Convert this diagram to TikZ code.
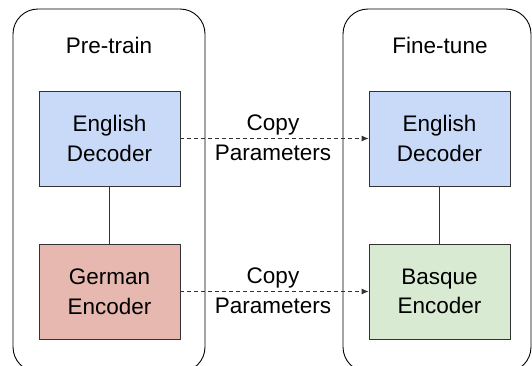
\documentclass[tikz,border=0pt]{standalone}
\usepackage{fontspec}
\setmainfont{Liberation Sans}
\usetikzlibrary{arrows.meta}
\definecolor{edblue}{HTML}{C9DAF8}
\definecolor{edred}{HTML}{E6B8AF}
\definecolor{edgreen}{HTML}{D9EAD3}
\definecolor{lin}{HTML}{333333}
\tikzset{
  container/.style={draw=black, line width=0.9pt, rounded corners=25pt},
  block/.style={draw=lin, line width=0.8pt, minimum width=141pt, minimum height=95pt, inner sep=0pt, align=center, font=\fontsize{22.5}{29.5}\selectfont},
  title/.style={font=\fontsize{22.5}{29.5}\selectfont, inner sep=0pt},
  lbl/.style={font=\fontsize{22.5}{29.5}\selectfont, inner sep=0pt, anchor=base},
  copyarrow/.style={draw=lin, line width=0.8pt, dash pattern=on 4pt off 3pt, -{Latex[length=7pt,width=6pt]}},
  link/.style={draw=lin, line width=0.8pt}
}
\begin{document}
\begin{tikzpicture}[x=1pt,y=-1pt]
\clip (0,0) rectangle (532,365);
\fill[white] (0,0) rectangle (532,365);
\draw[container] (13,9) rectangle (205,372);
\draw[container] (343,9) rectangle (531,372);
\node[title] (pt) at (109,45) {Pre-train};
\node[title] (ft) at (440,45) {Fine-tune};
\node[block, fill=edblue] (ed1) at (109.5,138.5) {English\\Decoder};
\node[block, fill=edred] (ge) at (109.5,291.5) {German\\Encoder};
\node[block, fill=edblue] (ed2) at (439.5,138.5) {English\\Decoder};
\node[block, fill=edgreen] (be) at (439.5,291.5) {Basque\\Encoder};
\draw[link] (ed1) -- (ge);
\draw[link] (ed2) -- (be);
\draw[copyarrow] (ed1) -- (ed2);
\draw[copyarrow] (ge) -- (be);
\node[lbl] (c1) at (273,130) {Copy};
\node[lbl] (p1) at (273,160) {Parameters};
\node[lbl] (c2) at (273,283) {Copy};
\node[lbl] (p2) at (273,313) {Parameters};
\end{tikzpicture}
\end{document}
